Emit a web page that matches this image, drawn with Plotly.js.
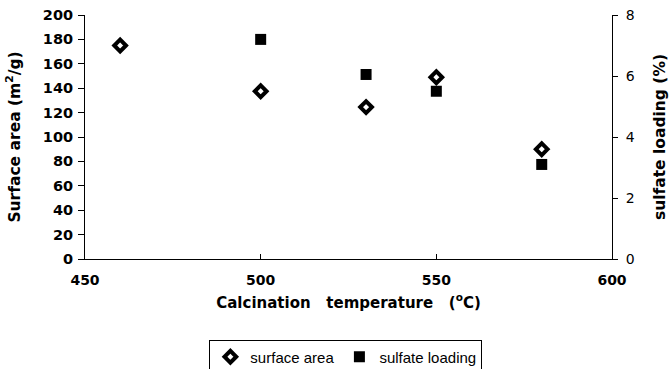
<!DOCTYPE html>
<html>
<head>
<meta charset="utf-8">
<script src="https://cdn.plot.ly/plotly-3.0.1.min.js"></script>
<style>html,body{margin:0;padding:0;background:#fff;}#chart{width:669px;height:369px;}</style>
</head>
<body>
<div id="chart"></div>
<script>
const areaTemps = [460, 500, 530, 550, 580];
const surfaceArea = [175, 137.5, 124.5, 149, 90];
const sulfateTemps = [500, 530, 550, 580];
const sulfateLoading = [7.2, 6.05, 5.5, 3.1];

const font = "'Liberation Sans', Arial, sans-serif";
const heavy = "'DejaVu Sans', 'Liberation Sans', sans-serif";

const traces = [
  {
    x: areaTemps, y: surfaceArea, type: 'scatter', mode: 'markers',
    name: 'surface area',
    marker: {symbol: 'diamond-open', size: 9, color: '#000', line: {color: '#000', width: 4}},
    yaxis: 'y'
  },
  {
    x: sulfateTemps, y: sulfateLoading, type: 'scatter', mode: 'markers',
    name: 'sulfate loading',
    marker: {symbol: 'square', size: 11, color: '#000'},
    yaxis: 'y2'
  }
];

const layout = {
  width: 669, height: 369,
  margin: {l: 85, r: 57, t: 15, b: 110, autoexpand: false},
  paper_bgcolor: '#fff', plot_bgcolor: '#fff',
  font: {family: font, color: '#000', size: 13},
  showlegend: true,
  legend: {
    orientation: 'h', x: 0.236, xanchor: 'left', y: -0.33, yanchor: 'top',
    bordercolor: '#000', borderwidth: 1, bgcolor: '#fff',
    font: {family: font, size: 15, color: '#000'},
    itemwidth: 30, tracegroupgap: 0, itemsizing: 'trace'
  },
  xaxis: {
    range: [450, 600], dtick: 50, tick0: 450,
    showline: true, linecolor: '#000', linewidth: 1,
    ticks: 'inside', ticklen: 5, tickcolor: '#000',
    showgrid: false, zeroline: false, ticklabelstandoff: 8,
    tickfont: {family: heavy, size: 14, color: '#000', weight: 'bold'},
    title: {text: 'Calcination   temperature   (<sup>o</sup>C)', standoff: 10,
      font: {family: heavy, size: 15, color: '#000', weight: 'bold'}}
  },
  yaxis: {
    range: [0, 200], dtick: 20,
    showline: true, linecolor: '#000', linewidth: 1,
    ticks: 'outside', ticklen: 6, tickcolor: '#000',
    showgrid: false, zeroline: false, ticklabelstandoff: 2,
    tickfont: {family: heavy, size: 14.5, color: '#000', weight: 'bold'},
    title: {text: 'Surface area (m<sup>2</sup>/g)', standoff: 18,
      font: {family: heavy, size: 15.5, color: '#000', weight: 'bold'}}
  },
  yaxis2: {
    range: [0, 8], dtick: 2, overlaying: 'y', side: 'right',
    showline: true, linecolor: '#000', linewidth: 1,
    ticks: 'outside', ticklen: 5, tickcolor: '#000',
    showgrid: false, zeroline: false, ticklabelstandoff: 5,
    tickfont: {family: heavy, size: 14, color: '#000'},
    title: {text: 'sulfate loading (%)', standoff: 20,
      font: {family: heavy, size: 15.5, color: '#000', weight: 'bold'}}
  }
};

Plotly.newPlot('chart', traces, layout, {displayModeBar: false, staticPlot: true});
</script>
</body>
</html>
